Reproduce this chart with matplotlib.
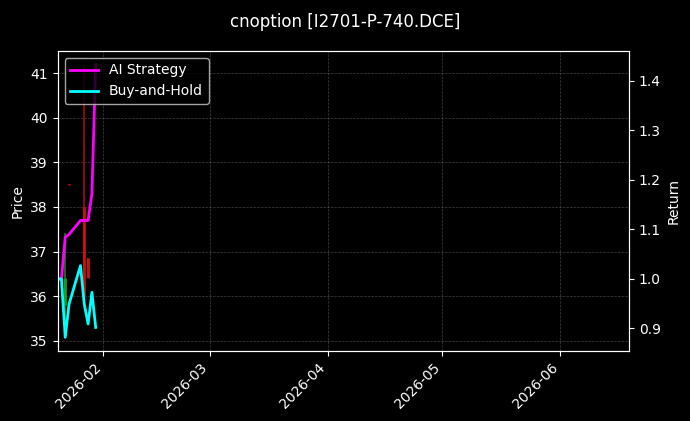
import matplotlib
matplotlib.use("Agg")
import matplotlib.pyplot as plt
import matplotlib.dates as mdates
import pandas as pd
import numpy as np

plt.style.use("dark_background")

dates = pd.to_datetime(["2026-01-20", "2026-01-21", "2026-01-22", "2026-01-23",
                        "2026-01-26", "2026-01-27", "2026-01-28", "2026-01-29",
                        "2026-01-30"])
ai_strategy = [1.0, 1.0, 1.084, 1.09, 1.118, 1.118, 1.118, 1.172, 1.433]
buy_hold = [1.0, 1.0, 0.882, 0.949, 1.027, 0.949, 0.909, 0.973, 0.902]

# candles (price axis)
c_dates = pd.to_datetime(["2026-01-22", "2026-01-23", "2026-01-27", "2026-01-28"])
c_open = [35.8, 38.51, 38.0, 36.85]
c_close = [36.4, 38.49, 36.0, 36.4]
c_high = [37.41, 38.51, 41.19, 36.85]
c_low = [35.08, 38.49, 36.0, 36.4]

xlim = pd.to_datetime(["2026-01-20", "2026-06-19"])

fig = plt.figure(figsize=(6.9, 4.21), dpi=100)
ax = fig.add_subplot(111)
fig.subplots_adjust(left=0.0835, right=0.9116, top=0.879, bottom=0.1663)

for d, o, c, h, l in zip(c_dates, c_open, c_close, c_high, c_low):
    col = "#22aa22" if c >= o else "#dd1111"
    ax.vlines(d, l, h, color=col, linewidth=1.1, alpha=0.8)
    ax.vlines(d, min(o, c), max(o, c), color=col, linewidth=2.2, alpha=0.8)

ax.set_ylabel("Price")
ax.grid(True, linestyle="--", linewidth=0.5, color="gray", alpha=0.5)

ax2 = ax.twinx()
ax2.plot(dates, ai_strategy, color="#ff00ff", linewidth=2, label="AI Strategy")
ax2.plot(dates, buy_hold, color="#00ffff", linewidth=2, label="Buy-and-Hold")
ax2.set_ylabel("Return")

ax.set_xlim(xlim[0], xlim[1])
ax.xaxis.set_major_locator(mdates.MonthLocator())
ax.xaxis.set_major_formatter(mdates.DateFormatter("%Y-%m"))
plt.setp(ax.get_xticklabels(), rotation=45, ha="right")

leg = ax2.legend(loc="upper left", facecolor="black", edgecolor="#cccccc", framealpha=0.8)

fig.suptitle("cnoption [I2701-P-740.DCE]", fontsize=12, y=0.968)

fig.savefig("out.png", dpi=100, facecolor="black")
